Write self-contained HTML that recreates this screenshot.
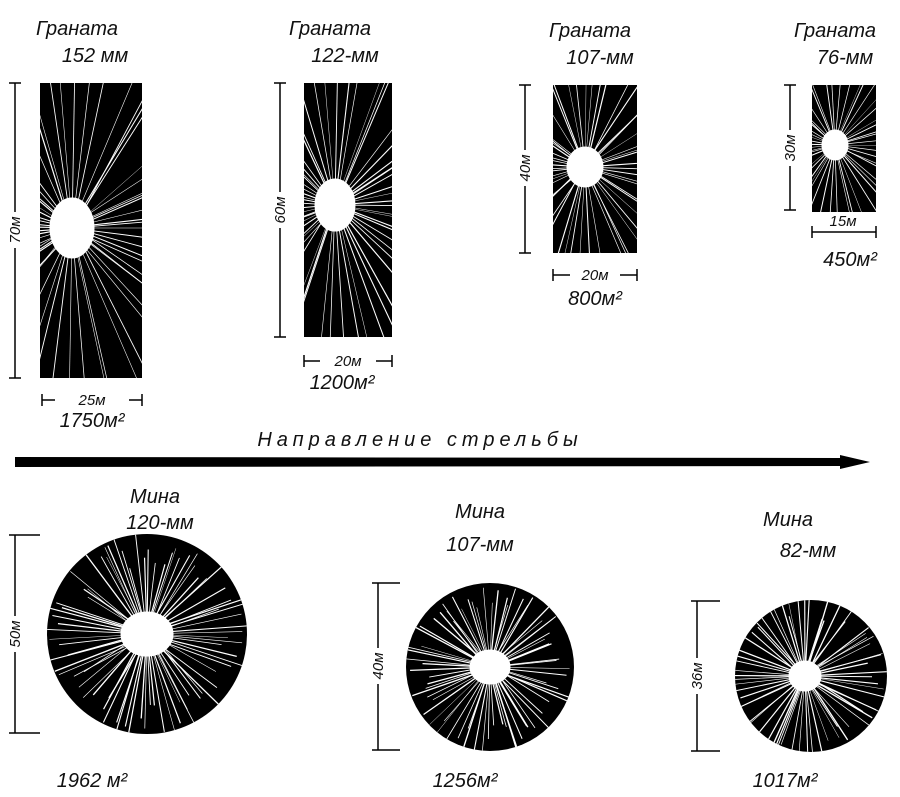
<!DOCTYPE html>
<html><head><meta charset="utf-8"><style>
html,body{margin:0;padding:0;background:#fff;width:900px;height:797px;overflow:hidden}
text{font-family:"Liberation Sans",sans-serif;font-style:italic;fill:#111}
</style></head><body>
<svg id="s" width="900" height="797" viewBox="0 0 900 797" xmlns="http://www.w3.org/2000/svg">
<defs>
<clipPath id="c1"><rect x="40" y="83" width="102" height="295"/></clipPath>
<clipPath id="c2"><rect x="304" y="83" width="88" height="254"/></clipPath>
<clipPath id="c3"><rect x="553" y="85" width="84" height="168"/></clipPath>
<clipPath id="c4"><rect x="812" y="85" width="64" height="127"/></clipPath>
<clipPath id="k1"><circle cx="147" cy="634" r="100"/></clipPath>
<clipPath id="k2"><circle cx="490" cy="667" r="84"/></clipPath>
<clipPath id="k3"><circle cx="811" cy="676" r="76"/></clipPath>
</defs>
<rect x="40" y="83" width="102" height="295" fill="#000"/>
<rect x="304" y="83" width="88" height="254" fill="#000"/>
<rect x="553" y="85" width="84" height="168" fill="#000"/>
<rect x="812" y="85" width="64" height="127" fill="#000"/>
<circle cx="147" cy="634" r="100" fill="#000"/>
<circle cx="490" cy="667" r="84" fill="#000"/>
<circle cx="811" cy="676" r="76" fill="#000"/>
<g id="rays" stroke="#fff"></g>
<g stroke="#000" stroke-width="1.5" fill="none">
<line x1="15" y1="83" x2="15" y2="378"/><line x1="9" y1="83" x2="21" y2="83"/><line x1="9" y1="378" x2="21" y2="378"/>
<line x1="280" y1="83" x2="280" y2="337"/><line x1="274" y1="83" x2="286" y2="83"/><line x1="274" y1="337" x2="286" y2="337"/>
<line x1="525" y1="85" x2="525" y2="253"/><line x1="519" y1="85" x2="531" y2="85"/><line x1="519" y1="253" x2="531" y2="253"/>
<line x1="790" y1="85" x2="790" y2="210"/><line x1="784" y1="85" x2="796" y2="85"/><line x1="784" y1="210" x2="796" y2="210"/>
<line x1="15" y1="535" x2="15" y2="733"/><line x1="9" y1="535" x2="40" y2="535"/><line x1="9" y1="733" x2="40" y2="733"/>
<line x1="378" y1="583" x2="378" y2="750"/><line x1="372" y1="583" x2="400" y2="583"/><line x1="372" y1="750" x2="400" y2="750"/>
<line x1="697" y1="601" x2="697" y2="751"/><line x1="691" y1="601" x2="720" y2="601"/><line x1="691" y1="751" x2="720" y2="751"/>
<line x1="42" y1="400" x2="142" y2="400"/><line x1="42" y1="394" x2="42" y2="406"/><line x1="142" y1="394" x2="142" y2="406"/>
<line x1="304" y1="361" x2="392" y2="361"/><line x1="304" y1="355" x2="304" y2="367"/><line x1="392" y1="355" x2="392" y2="367"/>
<line x1="553" y1="275" x2="637" y2="275"/><line x1="553" y1="269" x2="553" y2="281"/><line x1="637" y1="269" x2="637" y2="281"/>
<line x1="812" y1="232" x2="876" y2="232"/><line x1="812" y1="226" x2="812" y2="238"/><line x1="876" y1="226" x2="876" y2="238"/>
</g>
<polygon points="15,457 840,458 840,455 870,462 840,469 840,466 15,467" fill="#000"/>
<g font-size="20" text-anchor="middle">
<text x="77" y="35">Граната</text><text x="95" y="62">152 мм</text>
<text x="330" y="35">Граната</text><text x="345" y="62">122-мм</text>
<text x="590" y="37">Граната</text><text x="600" y="64">107-мм</text>
<text x="835" y="37">Граната</text><text x="845" y="64">76-мм</text>
<text x="92" y="427">1750м²</text>
<text x="342" y="389">1200м²</text>
<text x="595" y="305">800м²</text>
<text x="850" y="266">450м²</text>
<text x="155" y="503">Мина</text><text x="160" y="529">120-мм</text>
<text x="480" y="518">Мина</text><text x="480" y="551">107-мм</text>
<text x="788" y="526">Мина</text><text x="808" y="557">82-мм</text>
<text x="92" y="787">1962 м²</text>
<text x="465" y="787">1256м²</text>
<text x="785" y="787">1017м²</text>
<text x="420" y="446" letter-spacing="5">Направление  стрельбы</text>
</g>
<g font-size="15" text-anchor="middle">
<rect x="55" y="392" width="74" height="16" fill="#fff"/><text x="92" y="405">25м</text>
<rect x="320" y="353" width="56" height="16" fill="#fff"/><text x="348" y="366">20м</text>
<rect x="570" y="267" width="50" height="16" fill="#fff"/><text x="595" y="280">20м</text>
<text x="843" y="226">15м</text>
</g>
<g font-size="15" text-anchor="middle">
<rect x="7" y="212" width="16" height="36" fill="#fff"/><text transform="translate(20,230) rotate(-90)">70м</text>
<rect x="272" y="192" width="16" height="36" fill="#fff"/><text transform="translate(285,210) rotate(-90)">60м</text>
<rect x="517" y="150" width="16" height="36" fill="#fff"/><text transform="translate(530,168) rotate(-90)">40м</text>
<rect x="782" y="130" width="16" height="36" fill="#fff"/><text transform="translate(795,148) rotate(-90)">30м</text>
<rect x="7" y="616" width="16" height="36" fill="#fff"/><text transform="translate(20,634) rotate(-90)">50м</text>
<rect x="370" y="648" width="16" height="36" fill="#fff"/><text transform="translate(383,666) rotate(-90)">40м</text>
<rect x="689" y="658" width="16" height="36" fill="#fff"/><text transform="translate(702,676) rotate(-90)">36м</text>
</g>
</svg>
<script>
var g=document.getElementById('rays'),ns='http://www.w3.org/2000/svg';
var seed=7;function rnd(){seed=(seed*16807)%2147483647;return seed/2147483647;}
function add(cx,cy,clip,n,len,blob,bw,bh,w){
 var grp=document.createElementNS(ns,'g');grp.setAttribute('clip-path','url(#'+clip+')');
 for(var i=0;i<n;i++){var a=i/n*Math.PI*2+rnd()*0.05;var l=document.createElementNS(ns,'line');
  var r0=blob*0.6;l.setAttribute('x1',cx+Math.cos(a)*r0);l.setAttribute('y1',cy+Math.sin(a)*r0);
  l.setAttribute('x2',cx+Math.cos(a)*len*(0.6+rnd()*0.4));l.setAttribute('y2',cy+Math.sin(a)*len*(0.6+rnd()*0.4));
  l.setAttribute('stroke-width',(w*(0.5+rnd())).toFixed(2));grp.appendChild(l);}
 var e=document.createElementNS(ns,'ellipse');e.setAttribute('cx',cx);e.setAttribute('cy',cy);
 e.setAttribute('rx',bw);e.setAttribute('ry',bh);e.setAttribute('fill','#fff');grp.appendChild(e);
 g.appendChild(grp);}
add(72,228,'c1',60,400,20,22,30,0.8);
add(335,205,'c2',60,340,18,20,26,0.8);
add(585,167,'c3',55,250,16,18,20,0.8);
add(835,145,'c4',50,200,12,13,15,0.7);
add(147,634,'k1',80,110,24,26,22,0.9);
add(490,667,'k2',72,95,18,20,17,0.9);
add(805,676,'k3',66,95,16,16,15,0.9);
</script>
</body></html>
